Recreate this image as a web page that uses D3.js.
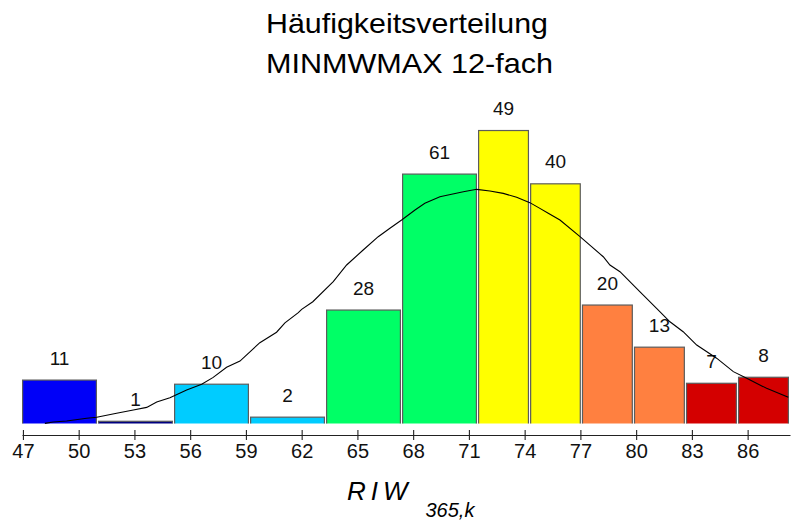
<!DOCTYPE html>
<html>
<head>
<meta charset="utf-8">
<script src="https://cdn.jsdelivr.net/npm/d3@7/dist/d3.min.js"></script>
<style>
  html, body { margin: 0; padding: 0; background: #fff; }
  svg { display: block; font-family: "Liberation Sans", Arial, sans-serif; }
</style>
</head>
<body>
<svg id="chart" width="796" height="520"></svg>
<script>
// ---- data ----
const titleLines = ["Häufigkeitsverteilung", "MINMWMAX 12-fach"];
const binEdges = [46.95, 51.04, 55.13, 59.22, 63.31, 67.40, 71.49, 74.29, 77.08, 79.88, 82.68, 85.48, 88.28];
const counts = [11, 1, 10, 2, 28, 61, 49, 40, 20, 13, 7, 8];
const binColors = ["#0000f8", "#000080", "#00ccff", "#00ccff", "#00ff66", "#00ff66",
                   "#ffff00", "#ffff00", "#ff8040", "#ff8040", "#d40000", "#d40000"];
const tickValues = [47, 50, 53, 56, 59, 62, 65, 68, 71, 74, 77, 80, 83, 86];
// fitted distribution curve (x value, frequency density)
const curveX = [48.18, 48.63, 49.35, 50.43, 50.97, 52.04, 52.94, 53.66, 54.20, 54.91, 55.81, 56.62, 57.24,
                57.96, 58.68, 59.75, 60.65, 61.10, 61.82, 62.00, 62.60, 63.70, 64.42, 65.31, 66.12, 66.75,
                67.38, 68.10, 68.63, 69.44, 70.70, 71.42, 72.13, 72.85, 73.57, 74.28, 74.82, 75.27, 75.90,
                76.98, 78.23, 78.59, 79.13, 80.21, 81.10, 81.82, 82.53, 83.26, 84.33, 85.23, 85.95, 87.02, 88.19];
const curveY = [0.12, 0.20, 0.26, 0.42, 0.48, 0.72, 0.91, 1.07, 1.39, 1.64, 2.10, 2.44, 2.85,
                3.45, 3.82, 4.91, 5.53, 6.09, 6.69, 6.89, 7.34, 8.53, 9.52, 10.41, 11.20, 11.70,
                12.19, 12.78, 13.18, 13.57, 13.87, 14.01, 13.91, 13.77, 13.54, 13.22, 12.88, 12.59, 12.19,
                11.20, 10.01, 9.52, 9.12, 7.93, 6.95, 6.15, 5.56, 4.77, 3.99, 3.19, 2.80, 2.20, 1.67];
const axisTitle = "RIW";
const axisSub = "365,k";

// ---- layout ----
const svg = d3.select("#chart");
const plotBottom = 423.4;
const x = d3.scaleLinear().domain([binEdges[0], binEdges[binEdges.length - 1]]).range([22, 790]);
const y = d3.scaleLinear().domain([0, 18]).range([425.4, 122.1]);

const bins = counts.map((c, i) => ({
  count: c, x0: binEdges[i], x1: binEdges[i + 1],
  density: c / (binEdges[i + 1] - binEdges[i]), color: binColors[i]
}));

// title
svg.append("text").attr("x", 407).attr("y", 32.5).attr("text-anchor", "middle")
  .attr("font-size", 28).attr("textLength", 282).attr("lengthAdjust", "spacingAndGlyphs")
  .attr("fill", "#000").text(titleLines[0]);
svg.append("text").attr("x", 409.5).attr("y", 73).attr("text-anchor", "middle")
  .attr("font-size", 28).attr("textLength", 287).attr("lengthAdjust", "spacingAndGlyphs")
  .attr("fill", "#000").text(titleLines[1]);

// clip for bars
svg.append("defs").append("clipPath").attr("id", "plotclip")
  .append("rect").attr("x", 0).attr("y", 0).attr("width", 796).attr("height", plotBottom);

const gBars = svg.append("g").attr("clip-path", "url(#plotclip)");
gBars.selectAll("rect").data(bins).join("rect")
  .attr("x", d => x(d.x0) + 0.6)
  .attr("y", d => y(d.density))
  .attr("width", d => x(d.x1) - x(d.x0) - 2.2)
  .attr("height", d => y(0) - y(d.density))
  .attr("fill", d => d.color)
  .attr("stroke", "#5c5c5c")
  .attr("stroke-width", 1.2);

// labels
svg.append("g").selectAll("text").data(bins).join("text")
  .attr("x", d => (x(d.x0) + x(d.x1)) / 2 - 0.5)
  .attr("y", d => y(d.density) - 15.5)
  .attr("text-anchor", "middle")
  .attr("font-size", 19)
  .attr("fill", "#111")
  .text(d => d.count);

// curve
const curvePts = curveX.map((v, i) => [v, curveY[i]]);
svg.append("path")
  .datum(curvePts)
  .attr("fill", "none")
  .attr("stroke", "#000")
  .attr("stroke-width", 1.1)
  .attr("d", d3.line().x(d => x(d[0])).y(d => y(d[1])));

// axis
const axis = d3.axisBottom(x).tickValues(tickValues).tickSizeInner(5).tickSizeOuter(0).tickFormat(d3.format("d"));
const gAxis = svg.append("g").attr("transform", "translate(0,435)").call(axis);
gAxis.select(".domain").attr("stroke", "#222").attr("stroke-width", 1.1);
gAxis.selectAll(".tick line").attr("y1", -5).attr("y2", 5).attr("stroke", "#222").attr("stroke-width", 1.1);
gAxis.selectAll(".tick text").attr("y", 23).attr("dy", null)
  .attr("font-size", 20).attr("fill", "#111")
  .attr("font-family", "'Liberation Sans', Arial, sans-serif");

// axis title
svg.append("text").attr("x", 347).attr("y", 500)
  .attr("font-size", 26).attr("font-style", "italic")
  .attr("letter-spacing", 5).attr("fill", "#000").text(axisTitle);
svg.append("text").attr("x", 425.5).attr("y", 517)
  .attr("font-size", 20).attr("font-style", "italic")
  .attr("fill", "#000").text(axisSub);
</script>
</body>
</html>
